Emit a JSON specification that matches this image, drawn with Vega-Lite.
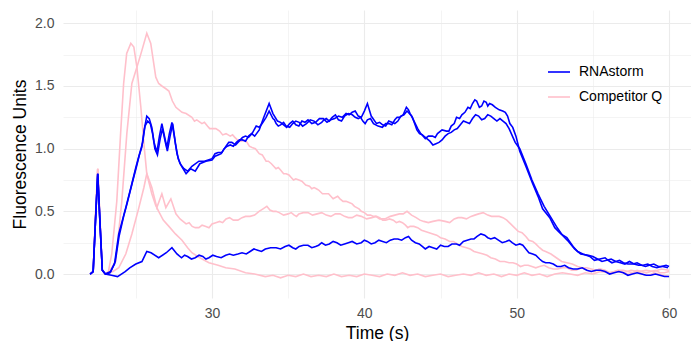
{
"$schema": "https://vega.github.io/schema/vega-lite/v6.json",
"width": 628, "height": 288,
"autosize": {"type": "none"},
"padding": {"left": 63, "top": 10, "right": 0, "bottom": 43},
"background": "white",
"config": {"view": {"stroke": null}, "font": "Liberation Sans"},
"data": {"values": [
{"g":"Competitor Q","r":"A","t":22.0,"v":0},{"g":"Competitor Q","r":"A","t":22.2,"v":0.02},{"g":"Competitor Q","r":"A","t":22.35,"v":0.45},{"g":"Competitor Q","r":"A","t":22.5,"v":0.84},{"g":"Competitor Q","r":"A","t":22.65,"v":0.42},{"g":"Competitor Q","r":"A","t":22.8,"v":0.03},{"g":"Competitor Q","r":"A","t":23.0,"v":0},
{"g":"Competitor Q","r":"A","t":23.2,"v":0.02},{"g":"Competitor Q","r":"A","t":23.42,"v":0.16},{"g":"Competitor Q","r":"A","t":23.75,"v":0.58},{"g":"Competitor Q","r":"A","t":24.0,"v":1.12},{"g":"Competitor Q","r":"A","t":24.2,"v":1.52},{"g":"Competitor Q","r":"A","t":24.4,"v":1.76},{"g":"Competitor Q","r":"A","t":24.67,"v":1.84},{"g":"Competitor Q","r":"A","t":24.87,"v":1.81},{"g":"Competitor Q","r":"A","t":25.07,"v":1.65},{"g":"Competitor Q","r":"A","t":25.33,"v":1.33},{"g":"Competitor Q","r":"A","t":25.53,"v":1.04},{"g":"Competitor Q","r":"A","t":25.72,"v":0.8},{"g":"Competitor Q","r":"A","t":26.05,"v":0.64},{"g":"Competitor Q","r":"A","t":26.3,"v":0.55},{"g":"Competitor Q","r":"A","t":26.5,"v":0.5},{"g":"Competitor Q","r":"A","t":26.8,"v":0.43},{"g":"Competitor Q","r":"A","t":27.17,"v":0.38},{"g":"Competitor Q","r":"A","t":27.6,"v":0.32},{"g":"Competitor Q","r":"A","t":28.03,"v":0.27},{"g":"Competitor Q","r":"A","t":28.4,"v":0.21},{"g":"Competitor Q","r":"A","t":28.68,"v":0.17},{"g":"Competitor Q","r":"A","t":29.2,"v":0.13},{"g":"Competitor Q","r":"A","t":29.8,"v":0.09},{"g":"Competitor Q","r":"A","t":30.4,"v":0.07},{"g":"Competitor Q","r":"A","t":30.9,"v":0.05},{"g":"Competitor Q","r":"A","t":31.5,"v":0.04},{"g":"Competitor Q","r":"A","t":32.2,"v":0.01},{"g":"Competitor Q","r":"A","t":32.8,"v":0.0},{"g":"Competitor Q","r":"A","t":33.5,"v":-0.02},{"g":"Competitor Q","r":"A","t":34.0,"v":-0.01},{"g":"Competitor Q","r":"A","t":34.5,"v":-0.03},{"g":"Competitor Q","r":"A","t":35.0,"v":-0.01},{"g":"Competitor Q","r":"A","t":35.5,"v":-0.02},{"g":"Competitor Q","r":"A","t":36.0,"v":0.0},{"g":"Competitor Q","r":"A","t":36.5,"v":-0.02},{"g":"Competitor Q","r":"A","t":37.0,"v":-0.01},{"g":"Competitor Q","r":"A","t":37.5,"v":-0.02},{"g":"Competitor Q","r":"A","t":38.0,"v":0.0},{"g":"Competitor Q","r":"A","t":38.5,"v":-0.02},{"g":"Competitor Q","r":"A","t":39.0,"v":-0.01},{"g":"Competitor Q","r":"A","t":39.5,"v":-0.02},{"g":"Competitor Q","r":"A","t":40.0,"v":0.0},{"g":"Competitor Q","r":"A","t":40.5,"v":-0.01},{"g":"Competitor Q","r":"A","t":41.0,"v":-0.02},{"g":"Competitor Q","r":"A","t":41.5,"v":0.0},{"g":"Competitor Q","r":"A","t":42.0,"v":-0.01},{"g":"Competitor Q","r":"A","t":42.5,"v":0.01},{"g":"Competitor Q","r":"A","t":43.0,"v":-0.01},{"g":"Competitor Q","r":"A","t":43.5,"v":0.0},{"g":"Competitor Q","r":"A","t":44.0,"v":-0.02},{"g":"Competitor Q","r":"A","t":44.5,"v":-0.01},{"g":"Competitor Q","r":"A","t":45.0,"v":0.0},{"g":"Competitor Q","r":"A","t":45.5,"v":-0.02},{"g":"Competitor Q","r":"A","t":46.0,"v":-0.01},{"g":"Competitor Q","r":"A","t":46.5,"v":0.0},{"g":"Competitor Q","r":"A","t":47.0,"v":-0.01},{"g":"Competitor Q","r":"A","t":47.5,"v":0.01},{"g":"Competitor Q","r":"A","t":48.0,"v":-0.01},{"g":"Competitor Q","r":"A","t":48.5,"v":0.0},{"g":"Competitor Q","r":"A","t":49.0,"v":-0.02},{"g":"Competitor Q","r":"A","t":49.5,"v":0.0},{"g":"Competitor Q","r":"A","t":50.0,"v":-0.01},{"g":"Competitor Q","r":"A","t":50.5,"v":0.01},{"g":"Competitor Q","r":"A","t":51.0,"v":-0.01},{"g":"Competitor Q","r":"A","t":51.5,"v":0.0},{"g":"Competitor Q","r":"A","t":52.0,"v":-0.02},{"g":"Competitor Q","r":"A","t":52.5,"v":0.0},{"g":"Competitor Q","r":"A","t":53.0,"v":0.01},{"g":"Competitor Q","r":"A","t":53.5,"v":0.0},{"g":"Competitor Q","r":"A","t":54.0,"v":-0.01},{"g":"Competitor Q","r":"A","t":54.5,"v":0.01},{"g":"Competitor Q","r":"A","t":55.0,"v":0.0},{"g":"Competitor Q","r":"A","t":55.5,"v":0.02},{"g":"Competitor Q","r":"A","t":56.0,"v":0.01},{"g":"Competitor Q","r":"A","t":56.5,"v":0.02},{"g":"Competitor Q","r":"A","t":57.0,"v":0.01},{"g":"Competitor Q","r":"A","t":57.5,"v":0.03},{"g":"Competitor Q","r":"A","t":58.0,"v":0.02},{"g":"Competitor Q","r":"A","t":58.5,"v":0.03},{"g":"Competitor Q","r":"A","t":59.0,"v":0.02},{"g":"Competitor Q","r":"A","t":59.5,"v":0.04},{"g":"Competitor Q","r":"A","t":60.0,"v":0.03},

{"g":"Competitor Q","r":"B","t":22.0,"v":0},{"g":"Competitor Q","r":"B","t":22.2,"v":0.02},{"g":"Competitor Q","r":"B","t":22.35,"v":0.45},{"g":"Competitor Q","r":"B","t":22.5,"v":0.84},{"g":"Competitor Q","r":"B","t":22.65,"v":0.42},{"g":"Competitor Q","r":"B","t":22.8,"v":0.03},{"g":"Competitor Q","r":"B","t":23.0,"v":0},
{"g":"Competitor Q","r":"B","t":23.3,"v":0.03},{"g":"Competitor Q","r":"B","t":23.68,"v":0.1},{"g":"Competitor Q","r":"B","t":24.08,"v":0.58},{"g":"Competitor Q","r":"B","t":24.41,"v":1.12},{"g":"Competitor Q","r":"B","t":24.74,"v":1.52},{"g":"Competitor Q","r":"B","t":25.07,"v":1.65},{"g":"Competitor Q","r":"B","t":25.39,"v":1.78},{"g":"Competitor Q","r":"B","t":25.72,"v":1.92},{"g":"Competitor Q","r":"B","t":25.98,"v":1.84},{"g":"Competitor Q","r":"B","t":26.31,"v":1.57},{"g":"Competitor Q","r":"B","t":26.5,"v":1.52},{"g":"Competitor Q","r":"B","t":26.71,"v":1.5},{"g":"Competitor Q","r":"B","t":26.95,"v":1.48},{"g":"Competitor Q","r":"B","t":27.17,"v":1.46},{"g":"Competitor Q","r":"B","t":27.4,"v":1.38},{"g":"Competitor Q","r":"B","t":27.63,"v":1.33},{"g":"Competitor Q","r":"B","t":28.03,"v":1.29},{"g":"Competitor Q","r":"B","t":28.3,"v":1.28},{"g":"Competitor Q","r":"B","t":28.68,"v":1.25},{"g":"Competitor Q","r":"B","t":29.0,"v":1.23},{"g":"Competitor Q","r":"B","t":29.34,"v":1.2},{"g":"Competitor Q","r":"B","t":29.7,"v":1.18},{"g":"Competitor Q","r":"B","t":30.0,"v":1.16},{"g":"Competitor Q","r":"B","t":30.5,"v":1.14},{"g":"Competitor Q","r":"B","t":30.92,"v":1.12},{"g":"Competitor Q","r":"B","t":31.2,"v":1.1},{"g":"Competitor Q","r":"B","t":31.5,"v":1.09},{"g":"Competitor Q","r":"B","t":31.97,"v":1.06},{"g":"Competitor Q","r":"B","t":32.3,"v":1.05},{"g":"Competitor Q","r":"B","t":32.63,"v":1.01},{"g":"Competitor Q","r":"B","t":33.1,"v":0.96},{"g":"Competitor Q","r":"B","t":33.55,"v":0.9},{"g":"Competitor Q","r":"B","t":33.9,"v":0.88},{"g":"Competitor Q","r":"B","t":34.2,"v":0.84},{"g":"Competitor Q","r":"B","t":34.5,"v":0.83},{"g":"Competitor Q","r":"B","t":34.87,"v":0.8},{"g":"Competitor Q","r":"B","t":35.2,"v":0.77},{"g":"Competitor Q","r":"B","t":35.5,"v":0.76},{"g":"Competitor Q","r":"B","t":35.9,"v":0.74},{"g":"Competitor Q","r":"B","t":36.4,"v":0.7},{"g":"Competitor Q","r":"B","t":36.7,"v":0.69},{"g":"Competitor Q","r":"B","t":37.0,"v":0.67},{"g":"Competitor Q","r":"B","t":37.55,"v":0.64},{"g":"Competitor Q","r":"B","t":37.8,"v":0.62},{"g":"Competitor Q","r":"B","t":38.1,"v":0.61},{"g":"Competitor Q","r":"B","t":38.4,"v":0.6},{"g":"Competitor Q","r":"B","t":38.8,"v":0.58},{"g":"Competitor Q","r":"B","t":39.2,"v":0.56},{"g":"Competitor Q","r":"B","t":39.5,"v":0.53},{"g":"Competitor Q","r":"B","t":39.8,"v":0.5},{"g":"Competitor Q","r":"B","t":40.2,"v":0.47},{"g":"Competitor Q","r":"B","t":40.6,"v":0.46},{"g":"Competitor Q","r":"B","t":41.0,"v":0.45},{"g":"Competitor Q","r":"B","t":41.4,"v":0.43},{"g":"Competitor Q","r":"B","t":41.9,"v":0.43},{"g":"Competitor Q","r":"B","t":42.3,"v":0.42},{"g":"Competitor Q","r":"B","t":42.7,"v":0.39},{"g":"Competitor Q","r":"B","t":43.0,"v":0.38},{"g":"Competitor Q","r":"B","t":43.5,"v":0.37},{"g":"Competitor Q","r":"B","t":44.0,"v":0.34},{"g":"Competitor Q","r":"B","t":44.5,"v":0.32},{"g":"Competitor Q","r":"B","t":45.0,"v":0.29},{"g":"Competitor Q","r":"B","t":45.6,"v":0.26},{"g":"Competitor Q","r":"B","t":46.1,"v":0.24},{"g":"Competitor Q","r":"B","t":46.7,"v":0.21},{"g":"Competitor Q","r":"B","t":47.2,"v":0.18},{"g":"Competitor Q","r":"B","t":47.8,"v":0.16},{"g":"Competitor Q","r":"B","t":48.3,"v":0.13},{"g":"Competitor Q","r":"B","t":48.9,"v":0.1},{"g":"Competitor Q","r":"B","t":49.5,"v":0.09},{"g":"Competitor Q","r":"B","t":50.0,"v":0.08},{"g":"Competitor Q","r":"B","t":50.5,"v":0.07},{"g":"Competitor Q","r":"B","t":51.0,"v":0.06},{"g":"Competitor Q","r":"B","t":51.5,"v":0.06},{"g":"Competitor Q","r":"B","t":52.1,"v":0.05},{"g":"Competitor Q","r":"B","t":52.7,"v":0.04},{"g":"Competitor Q","r":"B","t":53.3,"v":0.05},{"g":"Competitor Q","r":"B","t":53.9,"v":0.03},{"g":"Competitor Q","r":"B","t":54.5,"v":0.04},{"g":"Competitor Q","r":"B","t":55.1,"v":0.02},{"g":"Competitor Q","r":"B","t":55.7,"v":0.03},{"g":"Competitor Q","r":"B","t":56.3,"v":0.01},{"g":"Competitor Q","r":"B","t":56.9,"v":0.02},{"g":"Competitor Q","r":"B","t":57.5,"v":0.0},{"g":"Competitor Q","r":"B","t":58.1,"v":0.01},{"g":"Competitor Q","r":"B","t":58.7,"v":-0.01},{"g":"Competitor Q","r":"B","t":59.3,"v":0.0},{"g":"Competitor Q","r":"B","t":60.0,"v":-0.02},
{"g":"Competitor Q","r":"B","t":28.85,"v":1.22},{"g":"Competitor Q","r":"B","t":29.5,"v":1.21},{"g":"Competitor Q","r":"B","t":29.85,"v":1.16},{"g":"Competitor Q","r":"B","t":30.25,"v":1.16},{"g":"Competitor Q","r":"B","t":30.7,"v":1.11},{"g":"Competitor Q","r":"B","t":31.35,"v":1.11},{"g":"Competitor Q","r":"B","t":31.75,"v":1.06},{"g":"Competitor Q","r":"B","t":32.1,"v":1.07},{"g":"Competitor Q","r":"B","t":32.45,"v":1.02},{"g":"Competitor Q","r":"B","t":32.85,"v":1.0},{"g":"Competitor Q","r":"B","t":33.3,"v":0.95},{"g":"Competitor Q","r":"B","t":33.7,"v":0.9},{"g":"Competitor Q","r":"B","t":34.05,"v":0.86},{"g":"Competitor Q","r":"B","t":34.35,"v":0.85},{"g":"Competitor Q","r":"B","t":34.7,"v":0.8},{"g":"Competitor Q","r":"B","t":35.05,"v":0.79},{"g":"Competitor Q","r":"B","t":35.35,"v":0.75},{"g":"Competitor Q","r":"B","t":35.7,"v":0.75},{"g":"Competitor Q","r":"B","t":36.15,"v":0.71},{"g":"Competitor Q","r":"B","t":36.55,"v":0.68},{"g":"Competitor Q","r":"B","t":36.85,"v":0.68},{"g":"Competitor Q","r":"B","t":37.25,"v":0.64},{"g":"Competitor Q","r":"B","t":37.65,"v":0.64},{"g":"Competitor Q","r":"B","t":37.95,"v":0.6},{"g":"Competitor Q","r":"B","t":38.25,"v":0.62},{"g":"Competitor Q","r":"B","t":38.6,"v":0.58},{"g":"Competitor Q","r":"B","t":39.0,"v":0.57},{"g":"Competitor Q","r":"B","t":39.35,"v":0.54},{"g":"Competitor Q","r":"B","t":39.65,"v":0.52},{"g":"Competitor Q","r":"B","t":40.0,"v":0.49},{"g":"Competitor Q","r":"B","t":40.4,"v":0.47},{"g":"Competitor Q","r":"B","t":40.8,"v":0.46},{"g":"Competitor Q","r":"B","t":41.2,"v":0.43},{"g":"Competitor Q","r":"B","t":41.65,"v":0.44},{"g":"Competitor Q","r":"B","t":42.1,"v":0.41},{"g":"Competitor Q","r":"B","t":42.5,"v":0.41},{"g":"Competitor Q","r":"B","t":42.85,"v":0.37},{"g":"Competitor Q","r":"B","t":43.25,"v":0.38},{"g":"Competitor Q","r":"B","t":43.75,"v":0.35},{"g":"Competitor Q","r":"B","t":44.25,"v":0.33},{"g":"Competitor Q","r":"B","t":44.75,"v":0.31},{"g":"Competitor Q","r":"B","t":45.3,"v":0.28},{"g":"Competitor Q","r":"B","t":45.85,"v":0.26},{"g":"Competitor Q","r":"B","t":46.4,"v":0.22},{"g":"Competitor Q","r":"B","t":46.95,"v":0.2},{"g":"Competitor Q","r":"B","t":47.5,"v":0.17},{"g":"Competitor Q","r":"B","t":48.05,"v":0.15},{"g":"Competitor Q","r":"B","t":48.6,"v":0.12},{"g":"Competitor Q","r":"B","t":49.2,"v":0.1},{"g":"Competitor Q","r":"B","t":49.75,"v":0.09},{"g":"Competitor Q","r":"B","t":50.25,"v":0.06},{"g":"Competitor Q","r":"B","t":50.75,"v":0.07},{"g":"Competitor Q","r":"B","t":51.25,"v":0.05},{"g":"Competitor Q","r":"B","t":51.8,"v":0.07},{"g":"Competitor Q","r":"B","t":52.4,"v":0.04},{"g":"Competitor Q","r":"B","t":53.0,"v":0.05},{"g":"Competitor Q","r":"B","t":53.6,"v":0.03},{"g":"Competitor Q","r":"B","t":54.2,"v":0.05},{"g":"Competitor Q","r":"B","t":54.8,"v":0.02},{"g":"Competitor Q","r":"B","t":55.4,"v":0.04},{"g":"Competitor Q","r":"B","t":56.0,"v":0.01},{"g":"Competitor Q","r":"B","t":56.6,"v":0.03},{"g":"Competitor Q","r":"B","t":57.2,"v":0.0},{"g":"Competitor Q","r":"B","t":57.8,"v":0.02},{"g":"Competitor Q","r":"B","t":58.4,"v":-0.01},{"g":"Competitor Q","r":"B","t":59.0,"v":0.01},{"g":"Competitor Q","r":"B","t":59.6,"v":-0.01},

{"g":"Competitor Q","r":"C","t":22.0,"v":0},{"g":"Competitor Q","r":"C","t":22.2,"v":0.02},{"g":"Competitor Q","r":"C","t":22.35,"v":0.45},{"g":"Competitor Q","r":"C","t":22.5,"v":0.84},{"g":"Competitor Q","r":"C","t":22.65,"v":0.42},{"g":"Competitor Q","r":"C","t":22.8,"v":0.03},{"g":"Competitor Q","r":"C","t":23.0,"v":0},
{"g":"Competitor Q","r":"C","t":23.5,"v":0.02},{"g":"Competitor Q","r":"C","t":23.88,"v":0.05},{"g":"Competitor Q","r":"C","t":24.34,"v":0.16},{"g":"Competitor Q","r":"C","t":24.74,"v":0.32},{"g":"Competitor Q","r":"C","t":25.2,"v":0.53},{"g":"Competitor Q","r":"C","t":25.53,"v":0.69},{"g":"Competitor Q","r":"C","t":25.72,"v":0.8},{"g":"Competitor Q","r":"C","t":26.05,"v":0.69},{"g":"Competitor Q","r":"C","t":26.38,"v":0.53},{"g":"Competitor Q","r":"C","t":26.71,"v":0.64},{"g":"Competitor Q","r":"C","t":26.97,"v":0.53},{"g":"Competitor Q","r":"C","t":27.3,"v":0.6},{"g":"Competitor Q","r":"C","t":27.63,"v":0.48},{"g":"Competitor Q","r":"C","t":27.9,"v":0.44},{"g":"Competitor Q","r":"C","t":28.3,"v":0.4},{"g":"Competitor Q","r":"C","t":28.7,"v":0.38},{"g":"Competitor Q","r":"C","t":29.14,"v":0.37},{"g":"Competitor Q","r":"C","t":29.6,"v":0.38},{"g":"Competitor Q","r":"C","t":30.0,"v":0.4},{"g":"Competitor Q","r":"C","t":30.5,"v":0.42},{"g":"Competitor Q","r":"C","t":30.92,"v":0.44},{"g":"Competitor Q","r":"C","t":31.4,"v":0.43},{"g":"Competitor Q","r":"C","t":31.97,"v":0.45},{"g":"Competitor Q","r":"C","t":32.5,"v":0.46},{"g":"Competitor Q","r":"C","t":33.09,"v":0.5},{"g":"Competitor Q","r":"C","t":33.6,"v":0.54},{"g":"Competitor Q","r":"C","t":34.0,"v":0.5},{"g":"Competitor Q","r":"C","t":34.41,"v":0.49},{"g":"Competitor Q","r":"C","t":35.0,"v":0.48},{"g":"Competitor Q","r":"C","t":35.4,"v":0.47},{"g":"Competitor Q","r":"C","t":35.7,"v":0.48},{"g":"Competitor Q","r":"C","t":36.3,"v":0.49},{"g":"Competitor Q","r":"C","t":36.9,"v":0.48},{"g":"Competitor Q","r":"C","t":37.5,"v":0.47},{"g":"Competitor Q","r":"C","t":38.1,"v":0.48},{"g":"Competitor Q","r":"C","t":38.7,"v":0.46},{"g":"Competitor Q","r":"C","t":39.2,"v":0.45},{"g":"Competitor Q","r":"C","t":39.8,"v":0.46},{"g":"Competitor Q","r":"C","t":40.5,"v":0.45},{"g":"Competitor Q","r":"C","t":41.0,"v":0.44},{"g":"Competitor Q","r":"C","t":41.7,"v":0.46},{"g":"Competitor Q","r":"C","t":42.3,"v":0.48},{"g":"Competitor Q","r":"C","t":42.8,"v":0.5},{"g":"Competitor Q","r":"C","t":43.1,"v":0.47},{"g":"Competitor Q","r":"C","t":43.4,"v":0.45},{"g":"Competitor Q","r":"C","t":43.9,"v":0.42},{"g":"Competitor Q","r":"C","t":44.5,"v":0.42},{"g":"Competitor Q","r":"C","t":45.3,"v":0.42},{"g":"Competitor Q","r":"C","t":45.9,"v":0.44},{"g":"Competitor Q","r":"C","t":46.4,"v":0.45},{"g":"Competitor Q","r":"C","t":47.0,"v":0.46},{"g":"Competitor Q","r":"C","t":47.5,"v":0.48},{"g":"Competitor Q","r":"C","t":48.1,"v":0.47},{"g":"Competitor Q","r":"C","t":48.6,"v":0.46},{"g":"Competitor Q","r":"C","t":49.1,"v":0.45},{"g":"Competitor Q","r":"C","t":49.6,"v":0.4},{"g":"Competitor Q","r":"C","t":50.1,"v":0.34},{"g":"Competitor Q","r":"C","t":50.6,"v":0.3},{"g":"Competitor Q","r":"C","t":51.05,"v":0.26},{"g":"Competitor Q","r":"C","t":51.5,"v":0.21},{"g":"Competitor Q","r":"C","t":51.9,"v":0.18},{"g":"Competitor Q","r":"C","t":52.6,"v":0.13},{"g":"Competitor Q","r":"C","t":53.3,"v":0.09},{"g":"Competitor Q","r":"C","t":54.0,"v":0.06},{"g":"Competitor Q","r":"C","t":54.6,"v":0.05},{"g":"Competitor Q","r":"C","t":55.2,"v":0.03},{"g":"Competitor Q","r":"C","t":55.8,"v":0.03},{"g":"Competitor Q","r":"C","t":56.4,"v":0.02},{"g":"Competitor Q","r":"C","t":57.0,"v":0.03},{"g":"Competitor Q","r":"C","t":57.6,"v":0.01},{"g":"Competitor Q","r":"C","t":58.2,"v":0.02},{"g":"Competitor Q","r":"C","t":58.8,"v":0.02},{"g":"Competitor Q","r":"C","t":59.4,"v":0.01},{"g":"Competitor Q","r":"C","t":60.0,"v":0.02},
{"g":"Competitor Q","r":"C","t":28.5,"v":0.41},{"g":"Competitor Q","r":"C","t":28.9,"v":0.37},{"g":"Competitor Q","r":"C","t":29.35,"v":0.39},{"g":"Competitor Q","r":"C","t":29.8,"v":0.37},{"g":"Competitor Q","r":"C","t":30.25,"v":0.41},{"g":"Competitor Q","r":"C","t":30.7,"v":0.41},{"g":"Competitor Q","r":"C","t":31.15,"v":0.45},{"g":"Competitor Q","r":"C","t":31.7,"v":0.43},{"g":"Competitor Q","r":"C","t":32.2,"v":0.46},{"g":"Competitor Q","r":"C","t":32.8,"v":0.47},{"g":"Competitor Q","r":"C","t":33.35,"v":0.52},{"g":"Competitor Q","r":"C","t":33.8,"v":0.51},{"g":"Competitor Q","r":"C","t":34.2,"v":0.5},{"g":"Competitor Q","r":"C","t":34.7,"v":0.47},{"g":"Competitor Q","r":"C","t":35.2,"v":0.49},{"g":"Competitor Q","r":"C","t":35.55,"v":0.46},{"g":"Competitor Q","r":"C","t":36.0,"v":0.49},{"g":"Competitor Q","r":"C","t":36.6,"v":0.47},{"g":"Competitor Q","r":"C","t":37.2,"v":0.49},{"g":"Competitor Q","r":"C","t":37.8,"v":0.46},{"g":"Competitor Q","r":"C","t":38.4,"v":0.48},{"g":"Competitor Q","r":"C","t":38.95,"v":0.45},{"g":"Competitor Q","r":"C","t":39.5,"v":0.47},{"g":"Competitor Q","r":"C","t":40.15,"v":0.44},{"g":"Competitor Q","r":"C","t":40.75,"v":0.46},{"g":"Competitor Q","r":"C","t":41.35,"v":0.44},{"g":"Competitor Q","r":"C","t":42.0,"v":0.47},{"g":"Competitor Q","r":"C","t":42.55,"v":0.48},{"g":"Competitor Q","r":"C","t":43.25,"v":0.46},{"g":"Competitor Q","r":"C","t":43.65,"v":0.43},{"g":"Competitor Q","r":"C","t":44.2,"v":0.41},{"g":"Competitor Q","r":"C","t":44.9,"v":0.43},{"g":"Competitor Q","r":"C","t":45.6,"v":0.41},{"g":"Competitor Q","r":"C","t":46.15,"v":0.45},{"g":"Competitor Q","r":"C","t":46.7,"v":0.44},{"g":"Competitor Q","r":"C","t":47.25,"v":0.47},{"g":"Competitor Q","r":"C","t":47.8,"v":0.49},{"g":"Competitor Q","r":"C","t":48.35,"v":0.46},{"g":"Competitor Q","r":"C","t":48.85,"v":0.46},{"g":"Competitor Q","r":"C","t":49.35,"v":0.43},{"g":"Competitor Q","r":"C","t":49.85,"v":0.37},{"g":"Competitor Q","r":"C","t":50.35,"v":0.33},{"g":"Competitor Q","r":"C","t":50.8,"v":0.27},{"g":"Competitor Q","r":"C","t":51.25,"v":0.24},{"g":"Competitor Q","r":"C","t":51.7,"v":0.19},{"g":"Competitor Q","r":"C","t":52.25,"v":0.16},{"g":"Competitor Q","r":"C","t":52.95,"v":0.1},{"g":"Competitor Q","r":"C","t":53.65,"v":0.08},{"g":"Competitor Q","r":"C","t":54.3,"v":0.05},{"g":"Competitor Q","r":"C","t":54.9,"v":0.04},{"g":"Competitor Q","r":"C","t":55.5,"v":0.04},{"g":"Competitor Q","r":"C","t":56.1,"v":0.01},{"g":"Competitor Q","r":"C","t":56.7,"v":0.03},{"g":"Competitor Q","r":"C","t":57.3,"v":0.02},{"g":"Competitor Q","r":"C","t":57.9,"v":0.03},{"g":"Competitor Q","r":"C","t":58.5,"v":0.01},{"g":"Competitor Q","r":"C","t":59.1,"v":0.03},{"g":"Competitor Q","r":"C","t":59.7,"v":0.01},

{"g":"RNAstorm","r":"F","t":22.0,"v":0},{"g":"RNAstorm","r":"F","t":22.2,"v":0.02},{"g":"RNAstorm","r":"F","t":22.35,"v":0.42},{"g":"RNAstorm","r":"F","t":22.5,"v":0.8},{"g":"RNAstorm","r":"F","t":22.65,"v":0.4},{"g":"RNAstorm","r":"F","t":22.8,"v":0.03},{"g":"RNAstorm","r":"F","t":23.0,"v":0},
{"g":"RNAstorm","r":"F","t":23.4,"v":-0.01},{"g":"RNAstorm","r":"F","t":23.8,"v":-0.02},{"g":"RNAstorm","r":"F","t":24.3,"v":0.02},{"g":"RNAstorm","r":"F","t":24.6,"v":0.05},{"g":"RNAstorm","r":"F","t":25.0,"v":0.08},{"g":"RNAstorm","r":"F","t":25.4,"v":0.1},{"g":"RNAstorm","r":"F","t":25.72,"v":0.18},{"g":"RNAstorm","r":"F","t":26.0,"v":0.17},{"g":"RNAstorm","r":"F","t":26.5,"v":0.13},{"g":"RNAstorm","r":"F","t":27.0,"v":0.17},{"g":"RNAstorm","r":"F","t":27.37,"v":0.21},{"g":"RNAstorm","r":"F","t":27.7,"v":0.16},{"g":"RNAstorm","r":"F","t":28.0,"v":0.13},{"g":"RNAstorm","r":"F","t":28.4,"v":0.14},{"g":"RNAstorm","r":"F","t":28.9,"v":0.13},{"g":"RNAstorm","r":"F","t":29.4,"v":0.14},{"g":"RNAstorm","r":"F","t":29.8,"v":0.13},{"g":"RNAstorm","r":"F","t":30.3,"v":0.14},{"g":"RNAstorm","r":"F","t":30.9,"v":0.15},{"g":"RNAstorm","r":"F","t":31.4,"v":0.15},{"g":"RNAstorm","r":"F","t":31.97,"v":0.17},{"g":"RNAstorm","r":"F","t":32.5,"v":0.18},{"g":"RNAstorm","r":"F","t":33.0,"v":0.19},{"g":"RNAstorm","r":"F","t":33.5,"v":0.2},{"g":"RNAstorm","r":"F","t":34.21,"v":0.21},{"g":"RNAstorm","r":"F","t":34.8,"v":0.22},{"g":"RNAstorm","r":"F","t":35.3,"v":0.21},{"g":"RNAstorm","r":"F","t":35.72,"v":0.22},{"g":"RNAstorm","r":"F","t":36.3,"v":0.23},{"g":"RNAstorm","r":"F","t":36.8,"v":0.22},{"g":"RNAstorm","r":"F","t":37.2,"v":0.25},{"g":"RNAstorm","r":"F","t":37.7,"v":0.24},{"g":"RNAstorm","r":"F","t":38.2,"v":0.25},{"g":"RNAstorm","r":"F","t":38.7,"v":0.24},{"g":"RNAstorm","r":"F","t":39.2,"v":0.26},{"g":"RNAstorm","r":"F","t":39.8,"v":0.25},{"g":"RNAstorm","r":"F","t":40.2,"v":0.26},{"g":"RNAstorm","r":"F","t":40.7,"v":0.25},{"g":"RNAstorm","r":"F","t":41.2,"v":0.26},{"g":"RNAstorm","r":"F","t":41.7,"v":0.27},{"g":"RNAstorm","r":"F","t":42.2,"v":0.28},{"g":"RNAstorm","r":"F","t":42.7,"v":0.29},{"g":"RNAstorm","r":"F","t":43.1,"v":0.27},{"g":"RNAstorm","r":"F","t":43.6,"v":0.24},{"g":"RNAstorm","r":"F","t":44.0,"v":0.2},{"g":"RNAstorm","r":"F","t":44.5,"v":0.21},{"g":"RNAstorm","r":"F","t":45.0,"v":0.23},{"g":"RNAstorm","r":"F","t":45.5,"v":0.22},{"g":"RNAstorm","r":"F","t":46.05,"v":0.24},{"g":"RNAstorm","r":"F","t":46.5,"v":0.26},{"g":"RNAstorm","r":"F","t":47.0,"v":0.28},{"g":"RNAstorm","r":"F","t":47.4,"v":0.3},{"g":"RNAstorm","r":"F","t":47.9,"v":0.31},{"g":"RNAstorm","r":"F","t":48.3,"v":0.28},{"g":"RNAstorm","r":"F","t":48.8,"v":0.27},{"g":"RNAstorm","r":"F","t":49.3,"v":0.26},{"g":"RNAstorm","r":"F","t":49.7,"v":0.25},{"g":"RNAstorm","r":"F","t":50.2,"v":0.24},{"g":"RNAstorm","r":"F","t":50.6,"v":0.2},{"g":"RNAstorm","r":"F","t":51.05,"v":0.16},{"g":"RNAstorm","r":"F","t":51.5,"v":0.12},{"g":"RNAstorm","r":"F","t":51.9,"v":0.09},{"g":"RNAstorm","r":"F","t":52.4,"v":0.08},{"g":"RNAstorm","r":"F","t":52.9,"v":0.06},{"g":"RNAstorm","r":"F","t":53.4,"v":0.05},{"g":"RNAstorm","r":"F","t":54.0,"v":0.04},{"g":"RNAstorm","r":"F","t":54.6,"v":0.03},{"g":"RNAstorm","r":"F","t":55.2,"v":0.03},{"g":"RNAstorm","r":"F","t":55.8,"v":0.02},{"g":"RNAstorm","r":"F","t":56.4,"v":0.01},{"g":"RNAstorm","r":"F","t":57.0,"v":0.01},{"g":"RNAstorm","r":"F","t":57.6,"v":0.0},{"g":"RNAstorm","r":"F","t":58.2,"v":0.0},{"g":"RNAstorm","r":"F","t":58.8,"v":-0.01},{"g":"RNAstorm","r":"F","t":59.4,"v":-0.01},{"g":"RNAstorm","r":"F","t":60.0,"v":-0.02},
{"g":"RNAstorm","r":"F","t":28.2,"v":0.15},{"g":"RNAstorm","r":"F","t":28.65,"v":0.12},{"g":"RNAstorm","r":"F","t":29.15,"v":0.15},{"g":"RNAstorm","r":"F","t":29.6,"v":0.12},{"g":"RNAstorm","r":"F","t":30.05,"v":0.15},{"g":"RNAstorm","r":"F","t":30.6,"v":0.13},{"g":"RNAstorm","r":"F","t":31.15,"v":0.16},{"g":"RNAstorm","r":"F","t":31.7,"v":0.16},{"g":"RNAstorm","r":"F","t":32.25,"v":0.16},{"g":"RNAstorm","r":"F","t":32.75,"v":0.2},{"g":"RNAstorm","r":"F","t":33.25,"v":0.18},{"g":"RNAstorm","r":"F","t":33.85,"v":0.21},{"g":"RNAstorm","r":"F","t":34.5,"v":0.2},{"g":"RNAstorm","r":"F","t":35.05,"v":0.23},{"g":"RNAstorm","r":"F","t":35.5,"v":0.2},{"g":"RNAstorm","r":"F","t":36.0,"v":0.23},{"g":"RNAstorm","r":"F","t":36.55,"v":0.21},{"g":"RNAstorm","r":"F","t":37.0,"v":0.23},{"g":"RNAstorm","r":"F","t":37.45,"v":0.23},{"g":"RNAstorm","r":"F","t":37.95,"v":0.26},{"g":"RNAstorm","r":"F","t":38.45,"v":0.23},{"g":"RNAstorm","r":"F","t":38.95,"v":0.25},{"g":"RNAstorm","r":"F","t":39.5,"v":0.24},{"g":"RNAstorm","r":"F","t":40.0,"v":0.27},{"g":"RNAstorm","r":"F","t":40.45,"v":0.24},{"g":"RNAstorm","r":"F","t":40.95,"v":0.27},{"g":"RNAstorm","r":"F","t":41.45,"v":0.25},{"g":"RNAstorm","r":"F","t":41.95,"v":0.28},{"g":"RNAstorm","r":"F","t":42.45,"v":0.27},{"g":"RNAstorm","r":"F","t":42.9,"v":0.3},{"g":"RNAstorm","r":"F","t":43.35,"v":0.25},{"g":"RNAstorm","r":"F","t":43.8,"v":0.22},{"g":"RNAstorm","r":"F","t":44.25,"v":0.22},{"g":"RNAstorm","r":"F","t":44.75,"v":0.2},{"g":"RNAstorm","r":"F","t":45.25,"v":0.22},{"g":"RNAstorm","r":"F","t":45.75,"v":0.24},{"g":"RNAstorm","r":"F","t":46.25,"v":0.23},{"g":"RNAstorm","r":"F","t":46.75,"v":0.27},{"g":"RNAstorm","r":"F","t":47.2,"v":0.28},{"g":"RNAstorm","r":"F","t":47.65,"v":0.32},{"g":"RNAstorm","r":"F","t":48.1,"v":0.29},{"g":"RNAstorm","r":"F","t":48.55,"v":0.29},{"g":"RNAstorm","r":"F","t":49.05,"v":0.25},{"g":"RNAstorm","r":"F","t":49.5,"v":0.27},{"g":"RNAstorm","r":"F","t":49.95,"v":0.23},{"g":"RNAstorm","r":"F","t":50.4,"v":0.23},{"g":"RNAstorm","r":"F","t":50.8,"v":0.17},{"g":"RNAstorm","r":"F","t":51.25,"v":0.15},{"g":"RNAstorm","r":"F","t":51.7,"v":0.1},{"g":"RNAstorm","r":"F","t":52.15,"v":0.09},{"g":"RNAstorm","r":"F","t":52.65,"v":0.06},{"g":"RNAstorm","r":"F","t":53.15,"v":0.07},{"g":"RNAstorm","r":"F","t":53.7,"v":0.04},{"g":"RNAstorm","r":"F","t":54.3,"v":0.05},{"g":"RNAstorm","r":"F","t":54.9,"v":0.02},{"g":"RNAstorm","r":"F","t":55.5,"v":0.03},{"g":"RNAstorm","r":"F","t":56.1,"v":0.0},{"g":"RNAstorm","r":"F","t":56.7,"v":0.02},{"g":"RNAstorm","r":"F","t":57.3,"v":-0.01},{"g":"RNAstorm","r":"F","t":57.9,"v":0.01},{"g":"RNAstorm","r":"F","t":58.5,"v":-0.01},{"g":"RNAstorm","r":"F","t":59.1,"v":0.0},{"g":"RNAstorm","r":"F","t":59.7,"v":-0.02},

{"g":"RNAstorm","r":"D","t":22.0,"v":0},{"g":"RNAstorm","r":"D","t":22.2,"v":0.02},{"g":"RNAstorm","r":"D","t":22.35,"v":0.42},{"g":"RNAstorm","r":"D","t":22.5,"v":0.8},{"g":"RNAstorm","r":"D","t":22.65,"v":0.4},{"g":"RNAstorm","r":"D","t":22.8,"v":0.03},{"g":"RNAstorm","r":"D","t":23.0,"v":0},
{"g":"RNAstorm","r":"D","t":23.3,"v":0.01},{"g":"RNAstorm","r":"D","t":23.6,"v":0.08},{"g":"RNAstorm","r":"D","t":23.88,"v":0.32},{"g":"RNAstorm","r":"D","t":24.1,"v":0.42},{"g":"RNAstorm","r":"D","t":24.34,"v":0.53},{"g":"RNAstorm","r":"D","t":24.7,"v":0.7},{"g":"RNAstorm","r":"D","t":25.0,"v":0.85},{"g":"RNAstorm","r":"D","t":25.2,"v":0.94},{"g":"RNAstorm","r":"D","t":25.39,"v":1.01},{"g":"RNAstorm","r":"D","t":25.55,"v":1.15},{"g":"RNAstorm","r":"D","t":25.72,"v":1.26},{"g":"RNAstorm","r":"D","t":25.88,"v":1.24},{"g":"RNAstorm","r":"D","t":26.05,"v":1.17},{"g":"RNAstorm","r":"D","t":26.2,"v":1.05},{"g":"RNAstorm","r":"D","t":26.38,"v":0.97},{"g":"RNAstorm","r":"D","t":26.55,"v":1.1},{"g":"RNAstorm","r":"D","t":26.71,"v":1.2},{"g":"RNAstorm","r":"D","t":26.88,"v":1.1},{"g":"RNAstorm","r":"D","t":27.04,"v":1.01},{"g":"RNAstorm","r":"D","t":27.2,"v":1.12},{"g":"RNAstorm","r":"D","t":27.37,"v":1.21},{"g":"RNAstorm","r":"D","t":27.55,"v":1.08},{"g":"RNAstorm","r":"D","t":27.7,"v":0.96},{"g":"RNAstorm","r":"D","t":27.9,"v":0.88},{"g":"RNAstorm","r":"D","t":28.16,"v":0.84},{"g":"RNAstorm","r":"D","t":28.4,"v":0.82},{"g":"RNAstorm","r":"D","t":28.68,"v":0.86},{"g":"RNAstorm","r":"D","t":29.14,"v":0.9},{"g":"RNAstorm","r":"D","t":29.5,"v":0.9},{"g":"RNAstorm","r":"D","t":30.0,"v":0.92},{"g":"RNAstorm","r":"D","t":30.4,"v":0.97},{"g":"RNAstorm","r":"D","t":30.92,"v":1.02},{"g":"RNAstorm","r":"D","t":31.3,"v":1.05},{"g":"RNAstorm","r":"D","t":31.78,"v":1.06},{"g":"RNAstorm","r":"D","t":32.2,"v":1.1},{"g":"RNAstorm","r":"D","t":32.63,"v":1.12},{"g":"RNAstorm","r":"D","t":32.9,"v":1.18},{"g":"RNAstorm","r":"D","t":33.29,"v":1.2},{"g":"RNAstorm","r":"D","t":33.55,"v":1.25},{"g":"RNAstorm","r":"D","t":33.75,"v":1.3},{"g":"RNAstorm","r":"D","t":34.0,"v":1.24},{"g":"RNAstorm","r":"D","t":34.21,"v":1.2},{"g":"RNAstorm","r":"D","t":34.5,"v":1.19},{"g":"RNAstorm","r":"D","t":34.87,"v":1.18},{"g":"RNAstorm","r":"D","t":35.3,"v":1.2},{"g":"RNAstorm","r":"D","t":35.72,"v":1.21},{"g":"RNAstorm","r":"D","t":36.2,"v":1.2},{"g":"RNAstorm","r":"D","t":36.7,"v":1.22},{"g":"RNAstorm","r":"D","t":37.2,"v":1.21},{"g":"RNAstorm","r":"D","t":37.5,"v":1.24},{"g":"RNAstorm","r":"D","t":37.89,"v":1.25},{"g":"RNAstorm","r":"D","t":38.3,"v":1.23},{"g":"RNAstorm","r":"D","t":38.7,"v":1.26},{"g":"RNAstorm","r":"D","t":39.21,"v":1.27},{"g":"RNAstorm","r":"D","t":39.6,"v":1.24},{"g":"RNAstorm","r":"D","t":39.9,"v":1.22},{"g":"RNAstorm","r":"D","t":40.2,"v":1.23},{"g":"RNAstorm","r":"D","t":40.6,"v":1.2},{"g":"RNAstorm","r":"D","t":41.18,"v":1.17},{"g":"RNAstorm","r":"D","t":41.6,"v":1.2},{"g":"RNAstorm","r":"D","t":42.0,"v":1.23},{"g":"RNAstorm","r":"D","t":42.3,"v":1.25},{"g":"RNAstorm","r":"D","t":42.76,"v":1.33},{"g":"RNAstorm","r":"D","t":43.0,"v":1.28},{"g":"RNAstorm","r":"D","t":43.3,"v":1.2},{"g":"RNAstorm","r":"D","t":43.62,"v":1.12},{"g":"RNAstorm","r":"D","t":44.0,"v":1.08},{"g":"RNAstorm","r":"D","t":44.47,"v":1.1},{"g":"RNAstorm","r":"D","t":44.8,"v":1.12},{"g":"RNAstorm","r":"D","t":45.39,"v":1.14},{"g":"RNAstorm","r":"D","t":45.7,"v":1.18},{"g":"RNAstorm","r":"D","t":46.05,"v":1.25},{"g":"RNAstorm","r":"D","t":46.4,"v":1.27},{"g":"RNAstorm","r":"D","t":46.8,"v":1.33},{"g":"RNAstorm","r":"D","t":47.1,"v":1.36},{"g":"RNAstorm","r":"D","t":47.37,"v":1.38},{"g":"RNAstorm","r":"D","t":47.7,"v":1.34},{"g":"RNAstorm","r":"D","t":48.0,"v":1.37},{"g":"RNAstorm","r":"D","t":48.22,"v":1.36},{"g":"RNAstorm","r":"D","t":48.6,"v":1.33},{"g":"RNAstorm","r":"D","t":49.08,"v":1.3},{"g":"RNAstorm","r":"D","t":49.4,"v":1.26},{"g":"RNAstorm","r":"D","t":49.74,"v":1.17},{"g":"RNAstorm","r":"D","t":49.95,"v":1.1},{"g":"RNAstorm","r":"D","t":50.2,"v":0.98},{"g":"RNAstorm","r":"D","t":50.6,"v":0.86},{"g":"RNAstorm","r":"D","t":51.05,"v":0.72},{"g":"RNAstorm","r":"D","t":51.4,"v":0.62},{"g":"RNAstorm","r":"D","t":51.7,"v":0.52},{"g":"RNAstorm","r":"D","t":52.17,"v":0.45},{"g":"RNAstorm","r":"D","t":52.5,"v":0.37},{"g":"RNAstorm","r":"D","t":52.9,"v":0.32},{"g":"RNAstorm","r":"D","t":53.29,"v":0.29},{"g":"RNAstorm","r":"D","t":53.7,"v":0.22},{"g":"RNAstorm","r":"D","t":54.0,"v":0.18},{"g":"RNAstorm","r":"D","t":54.34,"v":0.16},{"g":"RNAstorm","r":"D","t":54.8,"v":0.14},{"g":"RNAstorm","r":"D","t":55.46,"v":0.12},{"g":"RNAstorm","r":"D","t":56.0,"v":0.11},{"g":"RNAstorm","r":"D","t":56.5,"v":0.1},{"g":"RNAstorm","r":"D","t":57.0,"v":0.09},{"g":"RNAstorm","r":"D","t":57.63,"v":0.08},{"g":"RNAstorm","r":"D","t":58.2,"v":0.07},{"g":"RNAstorm","r":"D","t":58.7,"v":0.07},{"g":"RNAstorm","r":"D","t":59.3,"v":0.06},{"g":"RNAstorm","r":"D","t":59.93,"v":0.05},
{"g":"RNAstorm","r":"D","t":30.2,"v":0.96},{"g":"RNAstorm","r":"D","t":30.65,"v":0.97},{"g":"RNAstorm","r":"D","t":31.1,"v":1.05},{"g":"RNAstorm","r":"D","t":31.55,"v":1.03},{"g":"RNAstorm","r":"D","t":32.0,"v":1.09},{"g":"RNAstorm","r":"D","t":32.4,"v":1.09},{"g":"RNAstorm","r":"D","t":33.1,"v":1.17},{"g":"RNAstorm","r":"D","t":34.1,"v":1.23},{"g":"RNAstorm","r":"D","t":34.35,"v":1.18},{"g":"RNAstorm","r":"D","t":34.7,"v":1.21},{"g":"RNAstorm","r":"D","t":35.1,"v":1.17},{"g":"RNAstorm","r":"D","t":35.5,"v":1.22},{"g":"RNAstorm","r":"D","t":35.95,"v":1.18},{"g":"RNAstorm","r":"D","t":36.45,"v":1.23},{"g":"RNAstorm","r":"D","t":36.95,"v":1.19},{"g":"RNAstorm","r":"D","t":37.35,"v":1.23},{"g":"RNAstorm","r":"D","t":37.7,"v":1.22},{"g":"RNAstorm","r":"D","t":38.1,"v":1.27},{"g":"RNAstorm","r":"D","t":38.5,"v":1.22},{"g":"RNAstorm","r":"D","t":38.95,"v":1.28},{"g":"RNAstorm","r":"D","t":39.4,"v":1.25},{"g":"RNAstorm","r":"D","t":39.75,"v":1.25},{"g":"RNAstorm","r":"D","t":40.05,"v":1.2},{"g":"RNAstorm","r":"D","t":40.4,"v":1.24},{"g":"RNAstorm","r":"D","t":40.9,"v":1.18},{"g":"RNAstorm","r":"D","t":41.4,"v":1.2},{"g":"RNAstorm","r":"D","t":41.8,"v":1.19},{"g":"RNAstorm","r":"D","t":42.15,"v":1.25},{"g":"RNAstorm","r":"D","t":42.55,"v":1.27},{"g":"RNAstorm","r":"D","t":42.9,"v":1.31},{"g":"RNAstorm","r":"D","t":43.15,"v":1.25},{"g":"RNAstorm","r":"D","t":43.45,"v":1.15},{"g":"RNAstorm","r":"D","t":43.8,"v":1.11},{"g":"RNAstorm","r":"D","t":44.2,"v":1.1},{"g":"RNAstorm","r":"D","t":44.65,"v":1.09},{"g":"RNAstorm","r":"D","t":45.1,"v":1.15},{"g":"RNAstorm","r":"D","t":45.55,"v":1.14},{"g":"RNAstorm","r":"D","t":45.9,"v":1.2},{"g":"RNAstorm","r":"D","t":46.25,"v":1.24},{"g":"RNAstorm","r":"D","t":46.6,"v":1.29},{"g":"RNAstorm","r":"D","t":46.95,"v":1.32},{"g":"RNAstorm","r":"D","t":47.25,"v":1.39},{"g":"RNAstorm","r":"D","t":47.55,"v":1.33},{"g":"RNAstorm","r":"D","t":47.85,"v":1.38},{"g":"RNAstorm","r":"D","t":48.1,"v":1.34},{"g":"RNAstorm","r":"D","t":48.4,"v":1.35},{"g":"RNAstorm","r":"D","t":48.85,"v":1.31},{"g":"RNAstorm","r":"D","t":49.25,"v":1.29},{"g":"RNAstorm","r":"D","t":49.55,"v":1.2},{"g":"RNAstorm","r":"D","t":55.1,"v":0.11},{"g":"RNAstorm","r":"D","t":55.8,"v":0.13},{"g":"RNAstorm","r":"D","t":56.25,"v":0.09},{"g":"RNAstorm","r":"D","t":56.75,"v":0.11},{"g":"RNAstorm","r":"D","t":57.3,"v":0.08},{"g":"RNAstorm","r":"D","t":57.9,"v":0.09},{"g":"RNAstorm","r":"D","t":58.45,"v":0.06},{"g":"RNAstorm","r":"D","t":59.0,"v":0.08},{"g":"RNAstorm","r":"D","t":59.6,"v":0.06},

{"g":"RNAstorm","r":"E","t":22.0,"v":0},{"g":"RNAstorm","r":"E","t":22.2,"v":0.02},{"g":"RNAstorm","r":"E","t":22.35,"v":0.42},{"g":"RNAstorm","r":"E","t":22.5,"v":0.8},{"g":"RNAstorm","r":"E","t":22.65,"v":0.4},{"g":"RNAstorm","r":"E","t":22.8,"v":0.03},{"g":"RNAstorm","r":"E","t":23.0,"v":0},
{"g":"RNAstorm","r":"E","t":23.35,"v":0.02},{"g":"RNAstorm","r":"E","t":23.65,"v":0.1},{"g":"RNAstorm","r":"E","t":23.9,"v":0.3},{"g":"RNAstorm","r":"E","t":24.2,"v":0.46},{"g":"RNAstorm","r":"E","t":24.4,"v":0.55},{"g":"RNAstorm","r":"E","t":24.75,"v":0.72},{"g":"RNAstorm","r":"E","t":25.05,"v":0.86},{"g":"RNAstorm","r":"E","t":25.25,"v":0.96},{"g":"RNAstorm","r":"E","t":25.45,"v":1.05},{"g":"RNAstorm","r":"E","t":25.6,"v":1.18},{"g":"RNAstorm","r":"E","t":25.78,"v":1.22},{"g":"RNAstorm","r":"E","t":25.95,"v":1.2},{"g":"RNAstorm","r":"E","t":26.1,"v":1.12},{"g":"RNAstorm","r":"E","t":26.25,"v":1.0},{"g":"RNAstorm","r":"E","t":26.42,"v":0.95},{"g":"RNAstorm","r":"E","t":26.6,"v":1.08},{"g":"RNAstorm","r":"E","t":26.75,"v":1.16},{"g":"RNAstorm","r":"E","t":26.92,"v":1.06},{"g":"RNAstorm","r":"E","t":27.07,"v":0.98},{"g":"RNAstorm","r":"E","t":27.25,"v":1.1},{"g":"RNAstorm","r":"E","t":27.42,"v":1.2},{"g":"RNAstorm","r":"E","t":27.6,"v":1.04},{"g":"RNAstorm","r":"E","t":27.78,"v":0.92},{"g":"RNAstorm","r":"E","t":28.0,"v":0.86},{"g":"RNAstorm","r":"E","t":28.3,"v":0.8},{"g":"RNAstorm","r":"E","t":28.6,"v":0.84},{"g":"RNAstorm","r":"E","t":28.9,"v":0.82},{"g":"RNAstorm","r":"E","t":29.2,"v":0.88},{"g":"RNAstorm","r":"E","t":29.6,"v":0.9},{"g":"RNAstorm","r":"E","t":30.0,"v":0.91},{"g":"RNAstorm","r":"E","t":30.4,"v":0.95},{"g":"RNAstorm","r":"E","t":30.8,"v":1.0},{"g":"RNAstorm","r":"E","t":31.2,"v":1.03},{"g":"RNAstorm","r":"E","t":31.6,"v":1.05},{"g":"RNAstorm","r":"E","t":32.0,"v":1.07},{"g":"RNAstorm","r":"E","t":32.4,"v":1.1},{"g":"RNAstorm","r":"E","t":32.8,"v":1.1},{"g":"RNAstorm","r":"E","t":33.1,"v":1.15},{"g":"RNAstorm","r":"E","t":33.4,"v":1.25},{"g":"RNAstorm","r":"E","t":33.75,"v":1.36},{"g":"RNAstorm","r":"E","t":34.0,"v":1.28},{"g":"RNAstorm","r":"E","t":34.3,"v":1.22},{"g":"RNAstorm","r":"E","t":34.7,"v":1.19},{"g":"RNAstorm","r":"E","t":35.1,"v":1.2},{"g":"RNAstorm","r":"E","t":35.5,"v":1.19},{"g":"RNAstorm","r":"E","t":35.9,"v":1.22},{"g":"RNAstorm","r":"E","t":36.3,"v":1.23},{"g":"RNAstorm","r":"E","t":36.8,"v":1.21},{"g":"RNAstorm","r":"E","t":37.3,"v":1.24},{"g":"RNAstorm","r":"E","t":37.8,"v":1.23},{"g":"RNAstorm","r":"E","t":38.3,"v":1.26},{"g":"RNAstorm","r":"E","t":38.8,"v":1.28},{"g":"RNAstorm","r":"E","t":39.2,"v":1.29},{"g":"RNAstorm","r":"E","t":39.6,"v":1.26},{"g":"RNAstorm","r":"E","t":40.0,"v":1.3},{"g":"RNAstorm","r":"E","t":40.2,"v":1.36},{"g":"RNAstorm","r":"E","t":40.45,"v":1.26},{"g":"RNAstorm","r":"E","t":40.8,"v":1.2},{"g":"RNAstorm","r":"E","t":41.2,"v":1.19},{"g":"RNAstorm","r":"E","t":41.6,"v":1.22},{"g":"RNAstorm","r":"E","t":42.0,"v":1.2},{"g":"RNAstorm","r":"E","t":42.4,"v":1.26},{"g":"RNAstorm","r":"E","t":42.8,"v":1.3},{"g":"RNAstorm","r":"E","t":43.1,"v":1.26},{"g":"RNAstorm","r":"E","t":43.5,"v":1.16},{"g":"RNAstorm","r":"E","t":43.9,"v":1.1},{"g":"RNAstorm","r":"E","t":44.3,"v":1.06},{"g":"RNAstorm","r":"E","t":44.7,"v":1.04},{"g":"RNAstorm","r":"E","t":45.1,"v":1.07},{"g":"RNAstorm","r":"E","t":45.5,"v":1.12},{"g":"RNAstorm","r":"E","t":45.9,"v":1.15},{"g":"RNAstorm","r":"E","t":46.3,"v":1.19},{"g":"RNAstorm","r":"E","t":46.7,"v":1.21},{"g":"RNAstorm","r":"E","t":47.1,"v":1.24},{"g":"RNAstorm","r":"E","t":47.5,"v":1.26},{"g":"RNAstorm","r":"E","t":47.9,"v":1.24},{"g":"RNAstorm","r":"E","t":48.3,"v":1.26},{"g":"RNAstorm","r":"E","t":48.7,"v":1.22},{"g":"RNAstorm","r":"E","t":49.1,"v":1.22},{"g":"RNAstorm","r":"E","t":49.5,"v":1.16},{"g":"RNAstorm","r":"E","t":49.9,"v":1.05},{"g":"RNAstorm","r":"E","t":50.2,"v":1.0},{"g":"RNAstorm","r":"E","t":50.6,"v":0.88},{"g":"RNAstorm","r":"E","t":51.0,"v":0.75},{"g":"RNAstorm","r":"E","t":51.4,"v":0.64},{"g":"RNAstorm","r":"E","t":51.8,"v":0.54},{"g":"RNAstorm","r":"E","t":52.2,"v":0.46},{"g":"RNAstorm","r":"E","t":52.6,"v":0.38},{"g":"RNAstorm","r":"E","t":53.0,"v":0.31},{"g":"RNAstorm","r":"E","t":53.4,"v":0.26},{"g":"RNAstorm","r":"E","t":53.8,"v":0.2},{"g":"RNAstorm","r":"E","t":54.2,"v":0.16},{"g":"RNAstorm","r":"E","t":54.7,"v":0.15},{"g":"RNAstorm","r":"E","t":55.3,"v":0.12},{"g":"RNAstorm","r":"E","t":55.9,"v":0.11},{"g":"RNAstorm","r":"E","t":56.5,"v":0.1},{"g":"RNAstorm","r":"E","t":57.1,"v":0.08},{"g":"RNAstorm","r":"E","t":57.7,"v":0.08},{"g":"RNAstorm","r":"E","t":58.3,"v":0.07},{"g":"RNAstorm","r":"E","t":58.9,"v":0.06},{"g":"RNAstorm","r":"E","t":59.5,"v":0.06},{"g":"RNAstorm","r":"E","t":60.0,"v":0.06},
{"g":"RNAstorm","r":"E","t":30.2,"v":0.94},{"g":"RNAstorm","r":"E","t":30.6,"v":0.96},{"g":"RNAstorm","r":"E","t":31.0,"v":1.02},{"g":"RNAstorm","r":"E","t":31.4,"v":1.02},{"g":"RNAstorm","r":"E","t":31.8,"v":1.07},{"g":"RNAstorm","r":"E","t":32.2,"v":1.06},{"g":"RNAstorm","r":"E","t":32.6,"v":1.12},{"g":"RNAstorm","r":"E","t":34.5,"v":1.21},{"g":"RNAstorm","r":"E","t":34.9,"v":1.17},{"g":"RNAstorm","r":"E","t":35.3,"v":1.22},{"g":"RNAstorm","r":"E","t":35.7,"v":1.18},{"g":"RNAstorm","r":"E","t":36.1,"v":1.21},{"g":"RNAstorm","r":"E","t":36.55,"v":1.2},{"g":"RNAstorm","r":"E","t":37.05,"v":1.24},{"g":"RNAstorm","r":"E","t":37.55,"v":1.21},{"g":"RNAstorm","r":"E","t":38.05,"v":1.24},{"g":"RNAstorm","r":"E","t":38.55,"v":1.25},{"g":"RNAstorm","r":"E","t":39.0,"v":1.27},{"g":"RNAstorm","r":"E","t":39.4,"v":1.3},{"g":"RNAstorm","r":"E","t":39.8,"v":1.25},{"g":"RNAstorm","r":"E","t":41.0,"v":1.21},{"g":"RNAstorm","r":"E","t":41.4,"v":1.18},{"g":"RNAstorm","r":"E","t":41.8,"v":1.21},{"g":"RNAstorm","r":"E","t":42.2,"v":1.22},{"g":"RNAstorm","r":"E","t":42.6,"v":1.27},{"g":"RNAstorm","r":"E","t":43.3,"v":1.21},{"g":"RNAstorm","r":"E","t":43.7,"v":1.12},{"g":"RNAstorm","r":"E","t":44.1,"v":1.08},{"g":"RNAstorm","r":"E","t":44.5,"v":1.03},{"g":"RNAstorm","r":"E","t":44.9,"v":1.05},{"g":"RNAstorm","r":"E","t":45.3,"v":1.1},{"g":"RNAstorm","r":"E","t":45.7,"v":1.13},{"g":"RNAstorm","r":"E","t":46.1,"v":1.16},{"g":"RNAstorm","r":"E","t":46.5,"v":1.22},{"g":"RNAstorm","r":"E","t":46.9,"v":1.2},{"g":"RNAstorm","r":"E","t":47.3,"v":1.27},{"g":"RNAstorm","r":"E","t":47.7,"v":1.23},{"g":"RNAstorm","r":"E","t":48.1,"v":1.27},{"g":"RNAstorm","r":"E","t":48.5,"v":1.24},{"g":"RNAstorm","r":"E","t":48.9,"v":1.24},{"g":"RNAstorm","r":"E","t":49.3,"v":1.2},{"g":"RNAstorm","r":"E","t":55.0,"v":0.14},{"g":"RNAstorm","r":"E","t":55.6,"v":0.1},{"g":"RNAstorm","r":"E","t":56.2,"v":0.12},{"g":"RNAstorm","r":"E","t":56.8,"v":0.09},{"g":"RNAstorm","r":"E","t":57.4,"v":0.1},{"g":"RNAstorm","r":"E","t":58.0,"v":0.07},{"g":"RNAstorm","r":"E","t":58.6,"v":0.08},{"g":"RNAstorm","r":"E","t":59.2,"v":0.05},{"g":"RNAstorm","r":"E","t":59.8,"v":0.07}
]},
"mark": {"type": "line", "strokeWidth": 1.6},
"encoding": {
  "x": {"field": "t", "type": "quantitative",
    "scale": {"domain": [20.22, 61.44], "nice": false, "zero": false},
    "axis": {"title": "Time (s)", "values": [25, 30, 35, 40, 45, 50, 55, 60],
      "labelExpr": "datum.value % 10 === 0 ? datum.label : ''",
      "domain": false, "ticks": false, "labelFontSize": 14, "labelColor": "#4D4D4D", "labelPadding": 8,
      "titleFontSize": 17.5, "titleFontWeight": "normal", "titleColor": "black", "titlePadding": 4,
      "gridColor": "#EBEBEB",
      "gridWidth": {"condition": {"test": "datum.value % 10 !== 0", "value": 0.55}, "value": 1.1}}},
  "y": {"field": "v", "type": "quantitative",
    "scale": {"domain": [-0.191, 2.106], "nice": false, "zero": false},
    "axis": {"title": "Fluorescence Units", "values": [0, 0.25, 0.5, 0.75, 1, 1.25, 1.5, 1.75, 2],
      "labelExpr": "datum.value % 0.5 === 0 ? format(datum.value, '.1f') : ''",
      "domain": false, "ticks": false, "labelFontSize": 14, "labelColor": "#4D4D4D", "labelPadding": 9,
      "titleFontSize": 17.5, "titleFontWeight": "normal", "titleColor": "black", "titlePadding": 5,
      "gridColor": "#EBEBEB",
      "gridWidth": {"condition": {"test": "datum.value % 0.5 !== 0", "value": 0.55}, "value": 1.1}}},
  "color": {"field": "g", "type": "nominal",
    "scale": {"domain": ["RNAstorm", "Competitor Q"], "range": ["#0000FF", "#FFC0CB"]},
    "legend": {"title": null, "orient": "none", "legendX": 484, "legendY": 50,
      "symbolType": "stroke", "symbolSize": 484, "symbolStrokeWidth": 1.6,
      "labelFontSize": 14, "labelColor": "black", "labelOffset": 8, "rowPadding": 6}},
  "detail": {"field": "r"}
}
}
